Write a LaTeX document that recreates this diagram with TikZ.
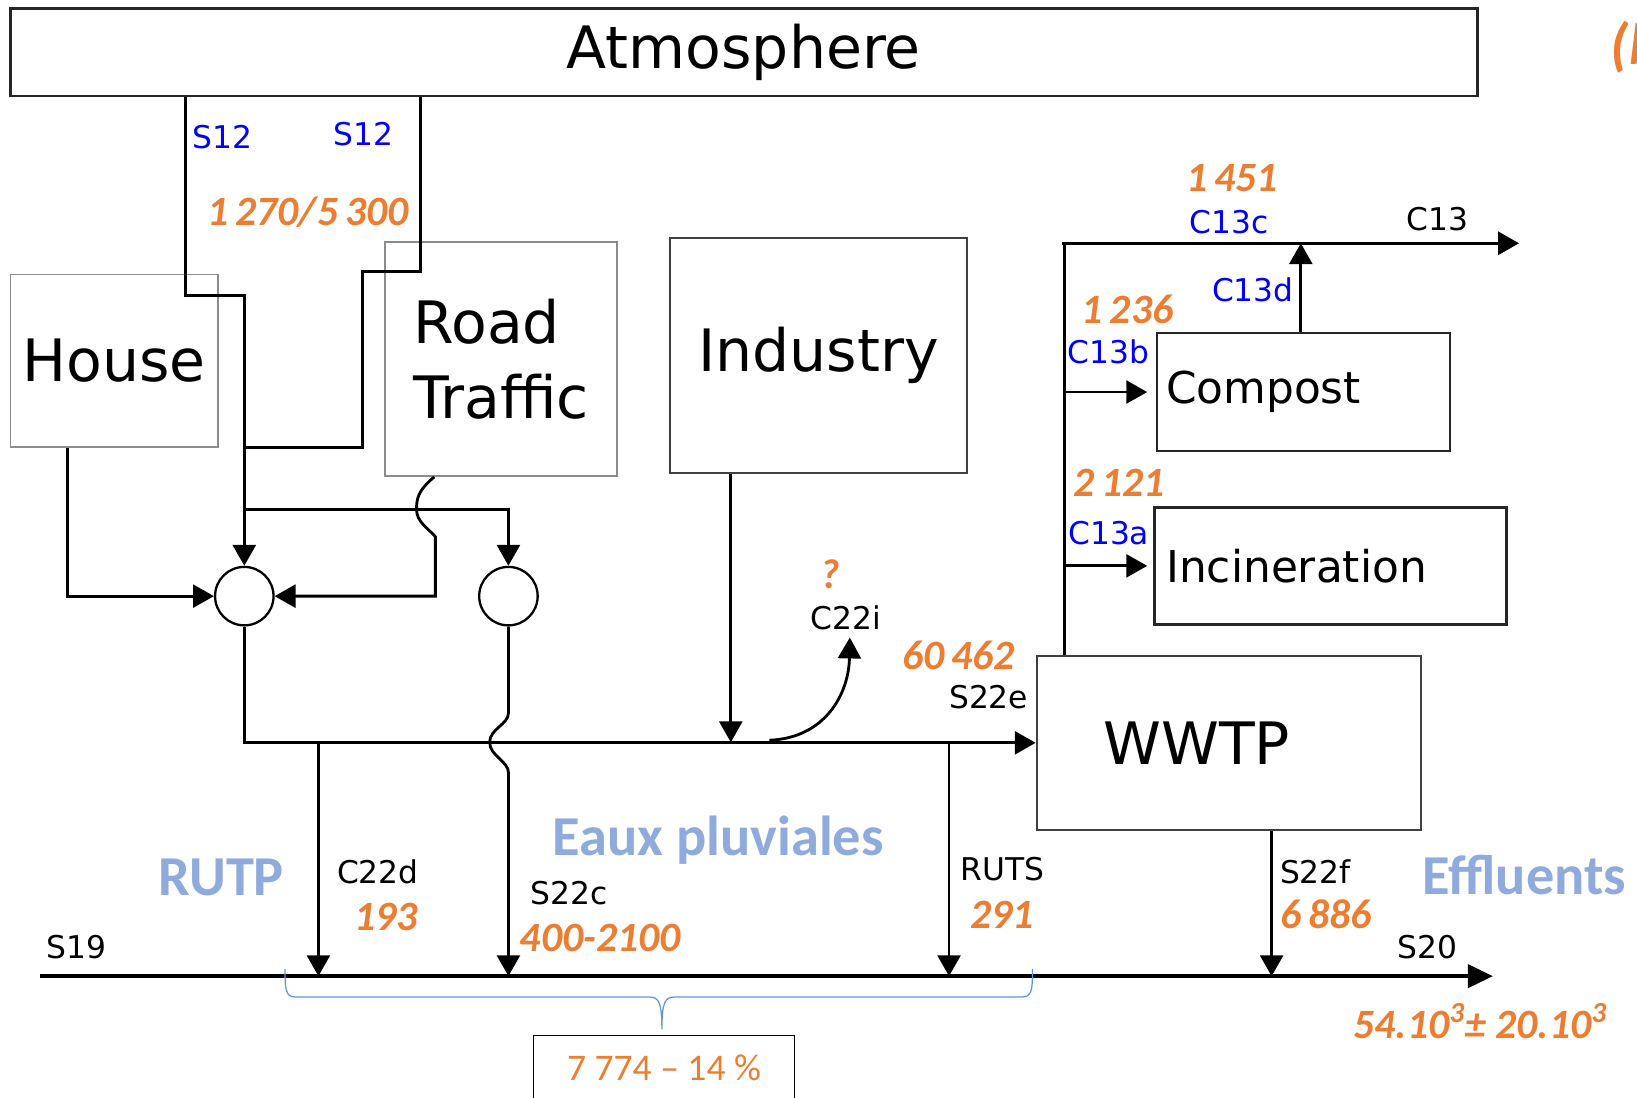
\documentclass[tikz,border=0pt]{standalone}
\usepackage{fontspec}
\setmainfont{DejaVu Sans}
\newfontfamily\numfont{Carlito}
\usetikzlibrary{arrows.meta, positioning}
\definecolor{orng}{HTML}{ED7D31}
\definecolor{lblue}{HTML}{8FAADC}
\definecolor{brblue}{HTML}{5B9BD5}

\begin{document}
\begin{tikzpicture}[x=0.5pt, y=-0.5pt, >={Triangle[length=10pt,width=11pt]},
	flow/.style={line width=1.35pt},
	box/.style={draw=black!85, line width=1.2pt, font=\fontsize{28}{35.5}\selectfont},
	sbox/.style={draw=gray!90, line width=0.8pt, font=\fontsize{28}{35.5}\selectfont},
	mix/.style={draw, circle, line width=1.1pt, minimum size=28pt, inner sep=0pt},
	lab/.style={font=\fontsize{15}{18}\selectfont},
	flx/.style={lab, text=blue},
	val/.style={text=orng, font=\numfont\bfseries\itshape\fontsize{20}{24}\selectfont},
	zone/.style={text=lblue, font=\numfont\bfseries\fontsize{27}{32}\selectfont}]
		\useasboundingbox (0,0) rectangle (1568,1051);
		% boxes
		\node[box, minimum width=702.5pt, minimum height=42pt] (atm) at (712.5,50) {Atmosphere};
		\node[sbox, minimum width=99.5pt, minimum height=82.5pt] (house) at (109.5,345.5) {House};
		\node[sbox, align=left, minimum width=111pt, minimum height=112pt] (road) at (480,344) {Road\\Traffic};
		\node[sbox, draw=black!75, minimum width=142pt, minimum height=112.5pt] (ind) at (784,340.5) {Industry};
		\node[box, font=\fontsize{21}{25}\selectfont, align=left, text width=131.5pt, inner xsep=4.5pt, minimum height=56.5pt] (comp) at (1248.5,375.5) {Compost};
		\node[box, font=\fontsize{21}{25}\selectfont, align=left, text width=157.5pt, inner xsep=5.5pt, minimum height=56pt] (incin) at (1274.5,542) {Incineration};
		\node[box, draw=black!75, line width=1pt, align=left, text width=120pt, inner xsep=32pt, minimum height=83.5pt] (wwtp) at (1177,711.5) {WWTP};
		\node[mix] (mixA) at (234,571) {};
		\node[mix] (mixB) at (487,571) {};
		\node[draw, line width=0.8pt, minimum width=125pt, minimum height=31pt, anchor=north, text=orng, font=\numfont\fontsize{18}{22}\selectfont] (tot) at (636,991) {7 774 – 14 \%};
		\coordinate (riverL) at (38,935);
		\coordinate (riverR) at (1430,935);
		\coordinate (topL) at (1017,233);
		\coordinate (topR) at (1455,233);
		% labels
		\node[flx] (s12a) at (213,131) {S12};
		\node[flx] (s12b) at (348,128) {S12};
		\node[val] (v1270) at (295,203) {1\,270/5\,300};
		\node[val] (v1451) at (1180,171) {1\,451};
		\node[flx] (c13c) at (1177,213) {C13c};
		\node[lab] (c13) at (1377,210) {C13};
		\node[flx] (c13d) at (1200,278) {C13d};
		\node[val] (v1236) at (1080,296) {1\,236};
		\node[flx] (c13b) at (1062,337) {C13b};
		\node[val] (v2121) at (1072,462) {2\,121};
		\node[flx] (c13a) at (1062,511) {C13a};
		\node[val] (quest) at (795,550) {?};
		\node[lab] (c22i) at (810,592) {C22i};
		\node[val] (v60462) at (918,628) {60\,462};
		\node[lab] (s22e) at (947,668) {S22e};
		\node[zone] (eaux) at (688,805) {Eaux pluviales};
		\node[zone] (rutp) at (212,840) {RUTP};
		\node[lab] (c22d) at (362,835) {C22d};
		\node[val] (v193) at (370,878) {193};
		\node[lab] (s22c) at (545,855) {S22c};
		\node[val] (v400) at (575,898) {400-2100};
		\node[lab] (ruts) at (960,832) {RUTS};
		\node[val] (v291) at (960,876) {291};
		\node[lab] (s22f) at (1260,835) {S22f};
		\node[val] (v6886) at (1270,876) {6\,886};
		\node[zone] (effl) at (1460,838) {Effluents};
		\node[lab] (s19) at (73,907) {S19};
		\node[lab] (s20) at (1367,907) {S20};
		\node[val] (vout) at (1418,978) {54.10\textsuperscript{3}± 20.10\textsuperscript{3}};
		\node[val, font=\numfont\bfseries\itshape\fontsize{28}{32}\selectfont, anchor=west] (panel) at (1536,45) {(b)};
		% flows
		\draw[flow,->] (atm.south -| 178,0) |- (234,283) -- (mixA.north);
		\draw[flow] (atm.south -| 403,0) |- (347,260) |- (234,429);
		\draw[flow,->] (234,488) -| (mixB.north);
		\draw[flow,->] (house.south -| 65,0) |- (mixA.west);
		\draw[flow,->] (road.south -| 416,0) .. controls (400,470) and (399,478) .. (399,488) .. controls (399,500) and (410,506) .. (417,514) |- (mixA.east);
		\draw[flow,->] (mixA.south) |- (wwtp.west);
		\draw[flow,->] (mixB.south) -- (487,683) .. controls (487,694) and (469,698) .. (469,711) .. controls (469,724) and (487,729) .. (487,740) -- (mixB.south |- riverL);
		\draw[flow,->] (ind.south -| 700,0) -- (700,711);
		\draw[flow,->] (737,709) .. controls (790,707) and (813,665) .. ([xshift=2pt]c22i.south);
		\draw[flow,->] (305,711) -- (riverL -| 305,0);
		\draw[flow,->] (909,711) -- (riverL -| 909,0);
		\draw[flow,->] (wwtp.south -| 1218,0) -- (riverL -| 1218,0);
		\draw[line width=2pt,->, >={Triangle[length=12pt,width=11pt]}] (riverL) -- (riverR);
		\draw[flow] (wwtp.north -| 1020,0) -- (1020,233);
		\draw[flow,->] (topL) -- (topR);
		\draw[flow,->] (comp.north -| 1246,0) -- (topL -| 1246,0);
		\draw[flow,->] (comp.west -| 1020,0) -- ([xshift=-4pt]comp.west);
		\draw[flow,->] (incin.west -| 1020,0) -- ([xshift=-3pt]incin.west);
		% brace
		\draw[brblue, line width=0.6pt] (273,928) .. controls (273,950) and (274,955) .. (284,955) -- (622,955) .. controls (631,955) and (634,960) .. (634,986) .. controls (634,960) and (637,955) .. (646,955) -- (978,955) .. controls (988,955) and (989,950) .. (989,928);
	\end{tikzpicture}
\end{document}
